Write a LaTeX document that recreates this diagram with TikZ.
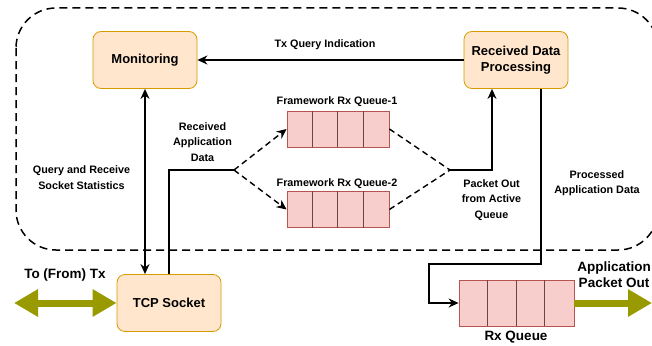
\documentclass[tikz,border=0pt]{standalone}
\usepackage{fontspec}
\setmainfont{Liberation Sans}
\usepackage{xcolor}
\usetikzlibrary{arrows.meta}

\definecolor{boxfill}{HTML}{FFE6CC}
\definecolor{boxline}{HTML}{D79B00}
\definecolor{qfill}{HTML}{F8CECC}
\definecolor{qline}{HTML}{B85450}
\definecolor{qsep}{HTML}{6B4444}
\definecolor{olive}{HTML}{999900}

\tikzset{
  procbox/.style={draw=boxline, fill=boxfill, line width=0.8pt, rounded corners=8pt,
    minimum width=104pt, minimum height=57pt, align=center,
    font=\bfseries\fontsize{13}{16.5}\selectfont},
  queuebox/.style={draw=qline, fill=qfill, line width=0.8pt, inner sep=0pt},
  lbl/.style={align=center, font=\bfseries\fontsize{10.8}{15.5}\selectfont},
  biglbl/.style={align=center, font=\bfseries\fontsize{13.5}{16}\selectfont},
  flow/.style={line width=1.4pt, -{Stealth[length=10pt,width=9pt]}},
  dflow/.style={flow, dash pattern=on 6pt off 4pt},
  fatflow/.style={draw=olive, line width=7pt, -{Triangle[length=24pt,width=26pt]}},
}

\begin{document}
\begin{tikzpicture}[x=1pt, y=-1pt]
\useasboundingbox (0,0) rectangle (652,345);

% Container
\draw[line width=1.5pt, dash pattern=on 8pt off 5pt, rounded corners=40pt] (16,8) rectangle (658,250);

% Processing boxes
\node[procbox] (mon) at (145,60) {Monitoring};
\node[procbox] (rdp) at (516,60) {Received Data\\Processing};
\node[procbox] (tcp) at (169,303) {TCP Socket};

% Queues
\node[queuebox, minimum width=102pt, minimum height=36pt] (rxq1) at (338,129) {};
\node[queuebox, minimum width=102pt, minimum height=36pt] (rxq2) at (338,209.5) {};
\node[queuebox, minimum width=115pt, minimum height=46pt] (rxq) at (516.5,303) {};
\foreach \i in {1,2,3} {
  \draw[qsep, line width=1pt] ([xshift=\i*25.5pt]rxq1.north west) -- ([xshift=\i*25.5pt]rxq1.south west);
  \draw[qsep, line width=1pt] ([xshift=\i*25.5pt]rxq2.north west) -- ([xshift=\i*25.5pt]rxq2.south west);
  \draw[qsep, line width=1pt] ([xshift=\i*28.75pt]rxq.north west) -- ([xshift=\i*28.75pt]rxq.south west);
}
\node[lbl] (q1name) at (337,102) {Framework Rx Queue-1};
\node[lbl] (q2name) at (337,184) {Framework Rx Queue-2};
\node[biglbl] (rxname) at (516,337) {Rx Queue};

% Split and merge points
\coordinate (split) at (234,170);
\coordinate (merge) at (450,170);

% Connectors
\draw[flow] (rdp.west) -- (mon.east);
\draw[flow, {Stealth[length=10pt,width=9pt]}-{Stealth[length=10pt,width=9pt]}] (mon.south) -- (mon.south |- tcp.north);
\draw[line width=1.4pt] (tcp.north) |- (split);
\draw[dflow] (split) -- (rxq1.west);
\draw[dflow] (split) -- (rxq2.west);
\draw[line width=1.4pt, dash pattern=on 6pt off 4pt] (rxq1.east) -- (merge);
\draw[line width=1.4pt, dash pattern=on 6pt off 4pt] (rxq2.east) -- (merge);
\draw[flow] (merge) -| ([xshift=-24pt]rdp.south);
\draw[flow] ([xshift=25pt]rdp.south) -- ++(0,175) -| (429,303) -- (rxq.west);

% Olive arrows
\coordinate (txend) at (14,303);
\coordinate (outend) at (652,303);
\draw[fatflow, {Triangle[length=24pt,width=26pt]}-{Triangle[length=24pt,width=26pt]}] (txend) -- (tcp.west);
\draw[fatflow] (rxq.east) -- (outend);

% Labels
\node[lbl] (txq) at (325,45) {Tx Query Indication};
\node[lbl] (rad) at (202.5,142) {Received\\Application\\Data};
\node[lbl] (qrs) at (81.5,177.5) {Query and Receive\\Socket Statistics};
\node[lbl] (poaq) at (491.5,200) {Packet Out\\from Active\\Queue};
\node[lbl] (pad) at (597,183) {Processed\\Application Data};
\node[biglbl] (txlbl) at (65,275) {To (From) Tx};
\node[biglbl] (apo) at (614,275) {Application\\Packet Out};
\end{tikzpicture}
\end{document}
